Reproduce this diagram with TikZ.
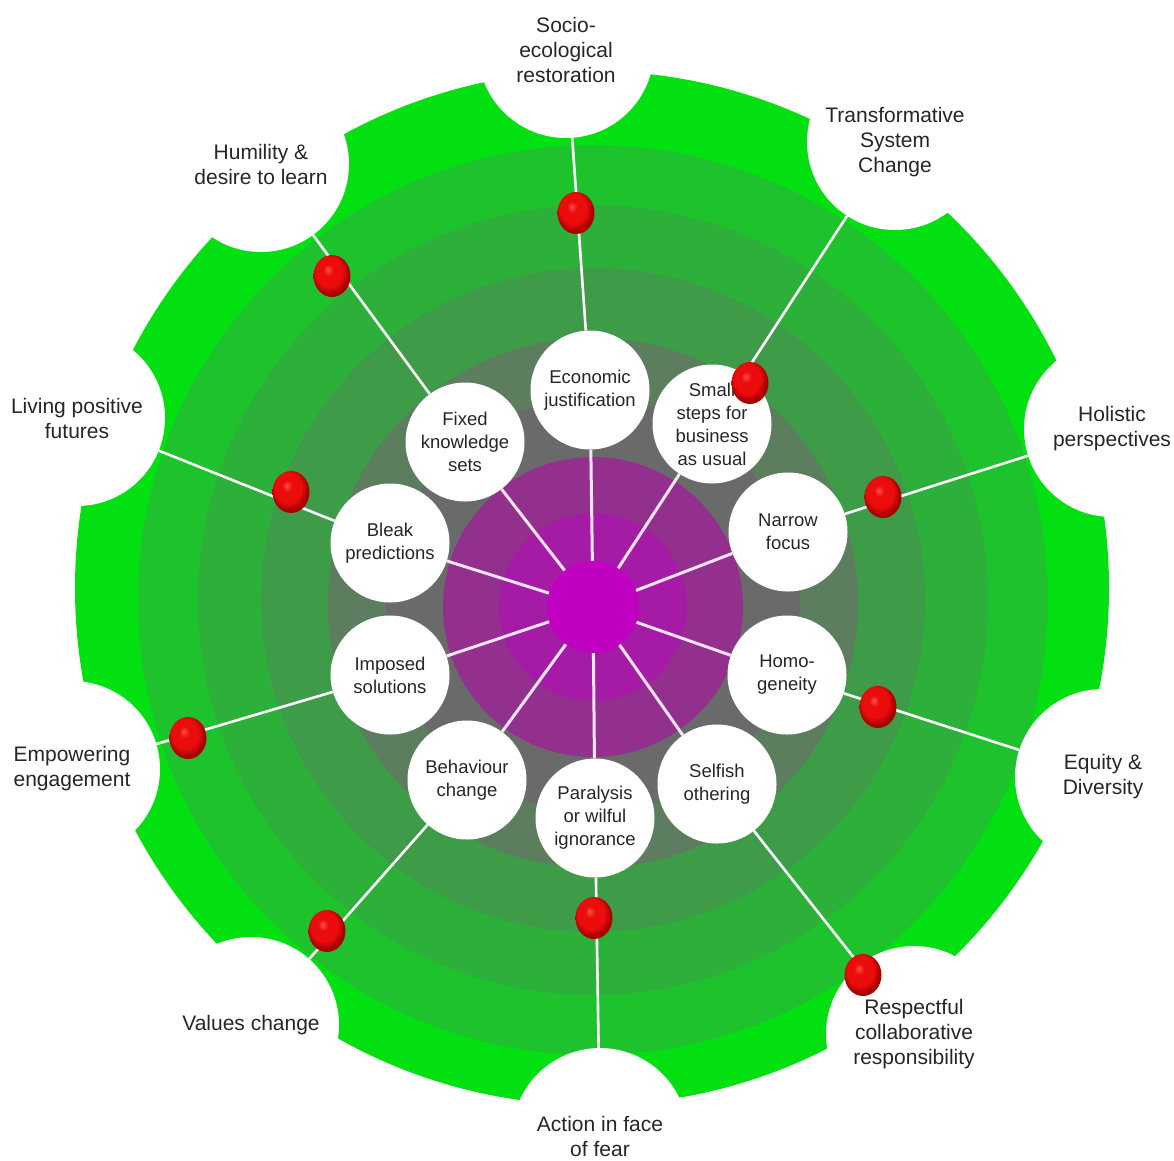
\documentclass[tikz,border=0pt]{standalone}
\usepackage{fontspec}
\setmainfont{Liberation Sans}
\usetikzlibrary{shapes.geometric}
\definecolor{ringA}{RGB}{2,224,18}
\definecolor{ringB}{RGB}{30,194,44}
\definecolor{ringC}{RGB}{45,176,58}
\definecolor{ringD}{RGB}{62,155,72}
\definecolor{ringE}{RGB}{92,126,94}
\definecolor{ringF}{RGB}{106,106,106}
\definecolor{purA}{RGB}{147,47,141}
\definecolor{purB}{RGB}{166,27,166}
\definecolor{purC}{RGB}{192,0,192}
\definecolor{txt}{RGB}{38,38,38}
\definecolor{spokecol}{RGB}{250,228,250}
\definecolor{pinhi}{RGB}{250,80,70}
\definecolor{pinred}{RGB}{235,12,12}
\definecolor{pindark}{RGB}{170,0,0}
\pgfdeclareradialshading{pinball}{\pgfpoint{-6bp}{8bp}}{color(0bp)=(pinhi); color(7bp)=(pinred); color(18bp)=(pinred); color(25bp)=(pindark); color(50bp)=(pindark)}
\begin{document}
\begin{tikzpicture}[x=1pt,y=-1pt,
  outnode/.style={circle,fill=white,minimum size=176pt,inner sep=0pt,align=center,text=txt,font=\fontsize{21}{25}\selectfont},
  innode/.style={circle,fill=white,minimum size=119pt,inner sep=0pt,align=center,text=txt,font=\fontsize{18.5}{23}\selectfont},
  linkline/.style={white,line width=2.6pt},
  spokeline/.style={spokecol,line width=3pt},
  redpin/.style={ellipse,minimum width=37pt,minimum height=42pt,inner sep=0pt,shading=pinball}]
\fill[white] (0,0) rectangle (1174,1160);
\useasboundingbox (0,0) rectangle (1174,1160);
% concentric rings
\fill[ringA] (592,588) circle[radius=517pt];
\fill[ringB] (593,600) circle[radius=455pt];
\fill[ringC] (593,600) circle[radius=395pt];
\fill[ringD] (593,600) circle[radius=332pt];
\fill[ringE] (593,603) circle[radius=265pt];
\fill[ringF] (593,605) circle[radius=207pt];
\fill[purA] (593,607) circle[radius=150pt];
\fill[purB] (593,607) circle[radius=94pt];
\node[circle,fill=purC,minimum size=92pt,inner sep=0pt] (c) at (593,607) {};
% outer notch circles
\node[outnode] (o1) at (566,50) {Socio-\\ecological\\restoration};
\node[outnode] (o2) at (895,142) {Transformative\\System\\Change};
\node[outnode] (o3) at (1112,429) {Holistic\\perspectives};
\node[outnode] (o4) at (1103,777) {Equity \&\\Diversity};
\node[outnode] (o5) at (914,1034) {Respectful\\collaborative\\responsibility};
\node[outnode] (o6) at (600,1136) {Action in face\\of fear};
\node[outnode] (o7) at (251,1025) {Values change};
\node[outnode] (o8) at (72,769) {Empowering\\engagement};
\node[outnode] (o9) at (77,418) {Living positive\\futures};
\node[outnode] (o10) at (261,164) {Humility \&\\desire to learn};
% inner circles
\node[innode] (n1) at (590,390) {Economic\\justification};
\node[innode] (n2) at (712,424) {Small\\steps for\\business\\as usual};
\node[innode] (n3) at (788,532) {Narrow\\focus};
\node[innode] (n4) at (787,675) {Homo-\\geneity};
\node[innode] (n5) at (717,784) {Selfish\\othering};
\node[innode] (n6) at (595,818) {Paralysis\\or wilful\\ignorance};
\node[innode] (n7) at (467,780) {Behaviour\\change};
\node[innode] (n8) at (390,675) {Imposed\\solutions};
\node[innode] (n9) at (390,543) {Bleak\\predictions};
\node[innode] (n10) at (465,442) {Fixed\\knowledge\\sets};
% spokes
\foreach \n in {n1,n2,n3,n4,n5,n6,n7,n8,n9,n10}
  \draw[spokeline] (c) -- (\n);
% links
\foreach \i in {1,...,10}
  \draw[linkline] (n\i) -- (o\i);
% red pins
\node[redpin] (p1) at (576,213) {};
\node[redpin] (p2) at (750,383) {};
\node[redpin] (p3) at (883,497) {};
\node[redpin] (p4) at (878,707) {};
\node[redpin] (p5) at (863,975) {};
\node[redpin] (p6) at (594,918) {};
\node[redpin] (p7) at (327,931) {};
\node[redpin] (p8) at (188,738) {};
\node[redpin] (p9) at (291,492) {};
\node[redpin] (p10) at (332,276) {};
\end{tikzpicture}
\end{document}
